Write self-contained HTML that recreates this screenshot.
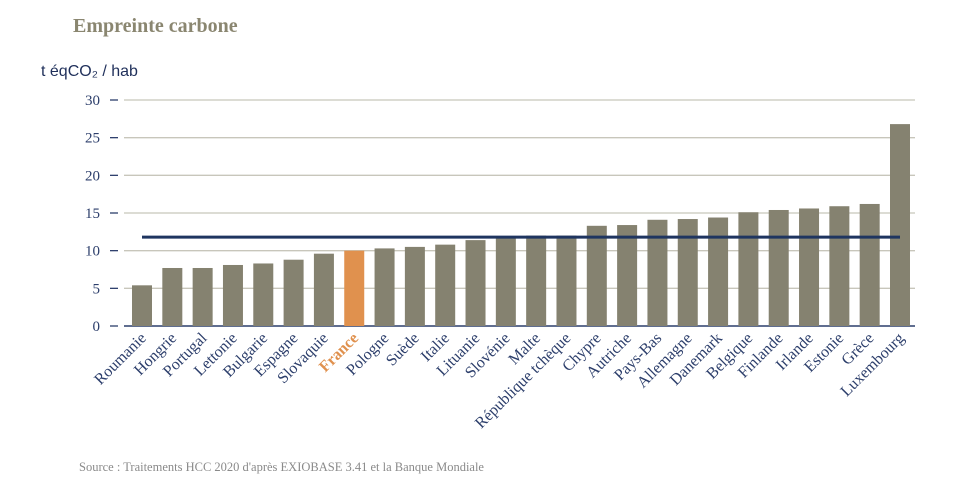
<!DOCTYPE html>
<html><head><meta charset="utf-8"><style>
body{margin:0;background:#fff;width:969px;height:493px;overflow:hidden;}
svg{display:block}
</style></head><body>
<svg id="c" width="969" height="493">
<text x="73" y="32" font-family="Liberation Serif, serif" font-weight="bold" font-size="20" fill="#8a8670">Empreinte carbone</text>
<text x="41" y="76" font-family="Liberation Sans, sans-serif" font-size="16" fill="#1f2f5a">t éqCO₂ / hab</text>
<text x="79" y="471" font-family="Liberation Serif, serif" font-size="12.5" fill="#8a8a8a">Source : Traitements HCC 2020 d'après EXIOBASE 3.41 et la Banque Mondiale</text>
<g id="grid"></g><g id="bars"></g><g id="labels"></g>
</svg>
<script>
const categories=["Roumanie","Hongrie","Portugal","Lettonie","Bulgarie","Espagne","Slovaquie","France","Pologne","Suède","Italie","Lituanie","Slovénie","Malte","République tchèque","Chypre","Autriche","Pays-Bas","Allemagne","Danemark","Belgique","Finlande","Irlande","Estonie","Grèce","Luxembourg"];
const values=[5.4,7.7,7.7,8.1,8.3,8.8,9.6,10.0,10.3,10.5,10.8,11.4,11.8,12.0,12.0,13.3,13.4,14.1,14.2,14.4,15.1,15.4,15.6,15.9,16.2,26.8];
const average=[11.8];
const ticks=[0,5,10,15,20,25,30];
const NS="http://www.w3.org/2000/svg";
const y0=326,pxPer=(326-100)/30;
const y=v=>y0-v*pxPer;
const x=i=>142+i*30.32;
function mk(t,a,p){const e=document.createElementNS(NS,t);for(const k in a)e.setAttribute(k,a[k]);p.appendChild(e);return e;}
const grid=document.getElementById('grid'),bars=document.getElementById('bars'),labels=document.getElementById('labels');
ticks.forEach(t=>{
 const l=mk('line',{x1:124,x2:915,y1:y(t),y2:y(t),stroke:t===0?'#2c3e6b':'#c8c6bb','stroke-width':t===0?1.5:1.3},grid);
 
 
 const d=mk('line',{x1:110,x2:118,y1:y(t),y2:y(t),stroke:'#2c3e6b','stroke-width':1.3},grid);
 
 
 const tx=mk('text',{x:100,y:y(t)+5,'text-anchor':'end','font-family':'Liberation Serif, serif','font-size':15,fill:'#2c3e6b'},grid);
 tx.textContent=t;
 
 
});
categories.forEach((c,i)=>{
 const fr=c==='France';
 const r=mk('rect',{x:x(i)-10,y:y(values[i]),width:20,height:y0-y(values[i]),fill:fr?'#e0914e':'#858270'},bars);
 
 
 const t=mk('text',{x:x(i)+5,y:339,'text-anchor':'end','font-family':'Liberation Serif, serif','font-size':16,fill:fr?'#e0914e':'#2c3e6b','font-weight':fr?'bold':'normal',transform:`rotate(-45 ${x(i)+5} 339)`},labels);
 t.textContent=c;
 
 
});
const av=mk('line',{x1:x(0),x2:x(categories.length-1),y1:y(average[0]),y2:y(average[0]),stroke:'#1f3560','stroke-width':3},bars);


</script>
</body></html>
